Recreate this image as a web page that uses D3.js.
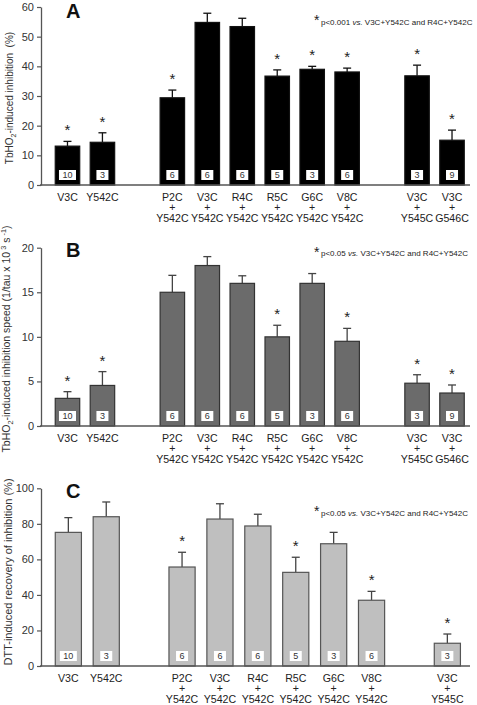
<!DOCTYPE html>
<html><head><meta charset="utf-8">
<script src="https://cdn.jsdelivr.net/npm/d3@7"></script>
<style>
html,body{margin:0;padding:0;background:#fff;}
svg{display:block;font-family:"Liberation Sans",Arial,Helvetica,sans-serif;}
</style></head>
<body><div id="chart"></div>
<script>
// ---------- DATA ----------
const labelsTop    = ["V3C","Y542C","P2C","V3C","R4C","R5C","G6C","V8C","V3C","V3C"];
const labelsBottom = ["","","Y542C","Y542C","Y542C","Y542C","Y542C","Y542C","Y545C","G546C"];
const slotsAB = [0,1,3,4,5,6,7,8,10,11];
const nAB = [10,3,6,6,6,5,3,6,3,9];

const valuesA = [13.1,14.4,29.4,54.8,53.4,36.7,39.0,38.1,36.8,15.1];
const semA    = [1.6,3.2,2.6,3.1,2.8,2.1,1.0,1.3,3.6,3.4];
const starsA  = [1,1,1,0,0,1,1,1,1,1];
const ticksA  = [0,10,20,30,40,50,60];

const valuesB = [3.1,4.55,15.0,18.0,16.0,10.0,16.0,9.5,4.8,3.7];
const semB    = [0.75,1.55,1.9,1.0,0.85,1.3,1.1,1.45,0.95,0.9];
const starsB  = [1,1,0,0,0,1,0,1,1,1];
const ticksB  = [0,5,10,15,20];

const labelsTopC    = ["V3C","Y542C","P2C","V3C","R4C","R5C","G6C","V8C","V3C"];
const labelsBottomC = ["","","Y542C","Y542C","Y542C","Y542C","Y542C","Y542C","Y545C"];
const slotsC = [0,1,3,4,5,6,7,8,10];
const nC = [10,3,6,6,6,5,3,6,3];
const valuesC = [75.2,84.0,55.7,82.7,78.8,52.7,68.8,37.0,12.8];
const semC    = [8.3,8.3,8.3,8.6,6.6,8.5,6.4,5.0,5.2];
const starsC  = [0,0,1,0,0,1,0,1,1];
const ticksC  = [0,20,40,60,80,100];

// ---------- DRAW ----------
const W = 477, H = 705;
const svg = d3.select("#chart").append("svg").attr("width", W).attr("height", H);

function drawPanel(o) {
  const g = svg.append("g");
  const y = d3.scaleLinear().domain([0, o.ymax]).range([o.bottom, o.top]);
  const x = d3.scaleBand().domain(d3.range(o.nSlots)).range(o.xRange)
    .paddingInner(o.pad).paddingOuter(o.pad / 2);
  const data = o.values.map((v, i) => ({
    v, sem: o.sem[i], star: o.stars[i], n: o.n[i],
    top: o.labelsTop[i], bot: o.labelsBottom[i], slot: o.slots[i]
  }));

  // y axis
  const ax = g.append("g").attr("transform", `translate(41,0)`)
    .call(d3.axisLeft(y).tickValues(o.ticks).tickSize(4).tickSizeOuter(0).tickPadding(3));
  ax.select(".domain").attr("stroke", "#555").attr("stroke-width", 1.3);
  ax.selectAll(".tick line").attr("stroke", "#555").attr("stroke-width", 1.2);
  ax.selectAll(".tick text").attr("font-size", 11).attr("fill", "#333")
    .attr("font-family", "Liberation Sans, Arial, sans-serif");

  // error bars
  const eg = g.append("g");
  data.forEach(d => {
    const cx = x(d.slot) + x.bandwidth() / 2;
    eg.append("line").attr("x1", cx).attr("x2", cx)
      .attr("y1", y(d.v)).attr("y2", y(d.v + d.sem))
      .attr("stroke", o.errColor).attr("stroke-width", 1.3);
    eg.append("line").attr("x1", cx - 4).attr("x2", cx + 4)
      .attr("y1", y(d.v + d.sem)).attr("y2", y(d.v + d.sem))
      .attr("stroke", o.errColor).attr("stroke-width", 1.3);
  });

  // bars
  g.append("g").selectAll("rect").data(data).join("rect")
    .attr("x", d => x(d.slot)).attr("width", x.bandwidth())
    .attr("y", d => y(d.v)).attr("height", d => y(0) - y(d.v))
    .attr("fill", o.fill).attr("stroke", o.stroke).attr("stroke-width", 1.2);

  // x axis line
  g.append("line").attr("x1", 40).attr("x2", 470)
    .attr("y1", o.bottom).attr("y2", o.bottom)
    .attr("stroke", "#555").attr("stroke-width", 1.4);

  // n boxes
  data.forEach(d => {
    const cx = x(d.slot) + x.bandwidth() / 2;
    const t = g.append("text").attr("x", cx).attr("y", o.bottom - 7.5)
      .attr("text-anchor", "middle").attr("font-size", 9).attr("fill", "#333").text(d.n);
    const w = t.node().getComputedTextLength() + 7;
    g.insert("rect", () => t.node()).attr("x", cx - w / 2).attr("y", o.bottom - 15)
      .attr("width", w).attr("height", 10).attr("fill", "#fff");
  });

  // stars
  g.append("g").selectAll("text").data(data.filter(d => d.star)).join("text")
    .attr("x", d => x(d.slot) + x.bandwidth() / 2)
    .attr("y", d => y(d.v + d.sem) - 6)
    .attr("text-anchor", "middle").attr("font-size", 15).attr("fill", "#222").text("*");

  // x labels
  data.forEach(d => {
    const cx = x(d.slot) + x.bandwidth() / 2;
    g.append("text").attr("x", cx).attr("y", o.bottom + 15.5).attr("text-anchor", "middle")
      .attr("font-size", 10.6).attr("fill", "#222").text(d.top);
    if (d.bot) {
      g.append("text").attr("x", cx).attr("y", o.bottom + 26.2).attr("text-anchor", "middle")
        .attr("font-size", 10.6).attr("fill", "#222").text("+");
      g.append("text").attr("x", cx).attr("y", o.bottom + 37).attr("text-anchor", "middle")
        .attr("font-size", 10.6).attr("fill", "#222").text(d.bot);
    }
  });

  // panel letter
  g.append("text").attr("x", 66).attr("y", o.letterY).attr("font-size", 20)
    .attr("font-weight", "bold").attr("fill", "#111").text(o.letter);

  // annotation
  g.append("text").attr("x", 314).attr("y", o.annY + 0.5).attr("font-size", 14)
    .attr("fill", "#222").text("*");
  const an = g.append("text").attr("x", 321).attr("y", o.annY).attr("font-size", 8).attr("fill", "#222");
  an.append("tspan").text(o.annP + " ");
  an.append("tspan").attr("font-style", "italic").text("vs.");
  an.append("tspan").text(" V3C+Y542C and R4C+Y542C");

  // y label
  const yl = g.append("text").attr("transform", `translate(${o.ylX},${o.ylY}) rotate(-90)`)
    .attr("text-anchor", "middle").attr("font-size", o.ylSize).attr("fill", "#333")
    .style("white-space", "pre");
  o.ylParts.forEach(p => {
    const ts = yl.append("tspan").text(p.t);
    if (p.sub) ts.attr("font-size", o.ylSize * 0.7).attr("dy", 3);
    if (p.sup) ts.attr("font-size", o.ylSize * 0.7).attr("dy", -4);
    if (p.reset) ts.attr("dy", p.reset);
  });
}

drawPanel({
  values: valuesA, sem: semA, stars: starsA, n: nAB, slots: slotsAB,
  labelsTop, labelsBottom, nSlots: 12, xRange: [50, 469.5], pad: 0.3,
  ymax: 60, ticks: ticksA, top: 7, bottom: 185,
  fill: "#000", stroke: "#111", errColor: "#111",
  letter: "A", letterY: 17.5, annY: 24.5, annP: "p<0.001",
  ylX: 13, ylY: 98, ylSize: 10,
  ylParts: [{t:"TbHO"},{t:"2",sub:true},{t:"-induced inhibition  (%)",reset:-3}]
});

drawPanel({
  values: valuesB, sem: semB, stars: starsB, n: nAB, slots: slotsAB,
  labelsTop, labelsBottom, nSlots: 12, xRange: [50, 469.5], pad: 0.3,
  ymax: 20, ticks: ticksB, top: 247.7, bottom: 426,
  fill: "#6b6b6b", stroke: "#333", errColor: "#444",
  letter: "B", letterY: 257, annY: 256, annP: "p<0.05",
  ylX: 10, ylY: 339, ylSize: 10.5,
  ylParts: [{t:"TbHO"},{t:"2",sub:true},{t:"-induced inhibition speed (1/tau x 10",reset:-3},
            {t:" 3",sup:true},{t:" s",reset:4},{t:" -1",sup:true},{t:")",reset:4}]
});

drawPanel({
  values: valuesC, sem: semC, stars: starsC, n: nC, slots: slotsC,
  labelsTop: labelsTopC, labelsBottom: labelsBottomC, nSlots: 11, xRange: [49.4, 466.3], pad: 0.31,
  ymax: 100, ticks: ticksC, top: 488.3, bottom: 666,
  fill: "#bfbfbf", stroke: "#555", errColor: "#444",
  letter: "C", letterY: 497.5, annY: 515.5, annP: "p<0.05",
  ylX: 12, ylY: 572, ylSize: 11,
  ylParts: [{t:"DTT-induced recovery of inhibition (%)"}]
});
</script>
</body></html>
